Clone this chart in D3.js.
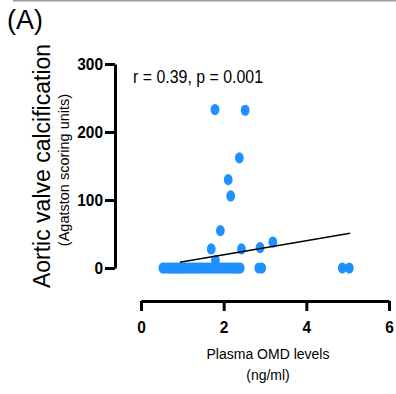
<!DOCTYPE html>
<html>
<head>
<meta charset="utf-8">
<script src="https://cdn.jsdelivr.net/npm/d3@7"></script>
<style>
  html, body { margin: 0; padding: 0; background: #fff; }
  svg { display: block; font-family: "Liberation Sans", Arial, sans-serif; }
</style>
</head>
<body>
<svg id="chart" width="396" height="394"></svg>
<script>
// ---- data ----
const omdLevels = [
  0.53, 0.58, 0.63, 0.68, 0.72, 0.77, 0.81, 0.86, 0.90, 0.95, 0.99, 1.04, 1.08, 1.13,
  1.18, 1.22, 1.27, 1.31, 1.36, 1.41, 1.45, 1.50, 1.55, 1.60, 1.65, 1.70, 1.74, 1.79,
  1.84, 1.88, 1.93, 1.98, 2.03, 2.08, 2.13, 2.18, 2.22, 2.27, 2.32, 2.36, 2.40, 2.85,
  2.92, 4.87, 5.04,
  1.79, 2.52, 2.38, 2.11, 2.17, 1.92, 1.70, 2.43, 2.88, 3.19, 1.80
];
const avcScores = [
  0, 0, 0, 0, 0, 0, 0, 0, 0, 0, 0, 0, 0, 0,
  0, 0, 0, 0, 0, 0, 0, 0, 0, 0, 0, 0, 0, 0,
  0, 0, 0, 0, 0, 0, 0, 0, 0, 0, 0, 0, 0, 0,
  0, 0, 0,
  233, 232, 162, 130, 106, 55, 28, 28, 30, 38, 11
];
const fitX = [0.94, 5.06];
const fitY = [8.4, 51];
const xTicks = [0, 2, 4, 6];
const yTicks = [0, 100, 200, 300];
const statsLabel = "r = 0.39, p = 0.001";
const panelLabel = "(A)";
const yTitle = "Aortic valve calcification";
const ySubtitle = "(Agatston scoring units)";
const xTitle = "Plasma OMD levels";
const xSubtitle = "(ng/ml)";

// ---- layout ----
const svg = d3.select("#chart");
const x = d3.scaleLinear().domain([0, 6]).range([141, 389]);
const y = d3.scaleLinear().domain([0, 300]).range([268, 64]);
const yAxisX = 115, xAxisY = 301;
const stretch = 1.12;
const blue = "#1E90FF";

// top border line
svg.append("line").attr("x1", 13).attr("x2", 396).attr("y1", 0.8).attr("y2", 0.8)
  .attr("stroke", "#9a9a9a").attr("stroke-width", 1.6);

// panel label
svg.append("text").attr("x", 7).attr("y", 29).attr("font-size", 27).text(panelLabel);

// y axis
const gy = svg.append("g").attr("transform", `translate(${yAxisX},0)`)
  .call(d3.axisLeft(y).tickValues(yTicks).tickFormat(d3.format("d"))
    .tickSize(10).tickSizeOuter(0).tickPadding(2));
gy.select(".domain").attr("stroke-width", 3);
gy.selectAll(".tick line").attr("stroke-width", 3);
gy.selectAll(".tick text").attr("font-size", 15.5).attr("font-weight", "bold")
  .attr("font-family", "Liberation Sans, Arial, sans-serif").attr("fill", "#000")
  .attr("transform", `scale(1,${stretch})`);

// x axis
const gx = svg.append("g").attr("transform", `translate(0,${xAxisY})`)
  .call(d3.axisBottom(x).tickValues(xTicks).tickFormat(d3.format("d"))
    .tickSize(10).tickSizeOuter(0));
gx.select(".domain").attr("stroke-width", 3);
gx.selectAll(".tick line").attr("stroke-width", 3);
gx.selectAll(".tick text").attr("font-size", 15.5).attr("font-weight", "bold")
  .attr("font-family", "Liberation Sans, Arial, sans-serif").attr("fill", "#000")
  .attr("y", 32 / stretch).attr("dy", 0)
  .attr("transform", `scale(1,${stretch})`);

// points
svg.append("g").selectAll("ellipse").data(omdLevels.map((v, i) => [v, avcScores[i]]))
  .join("ellipse")
  .attr("cx", d => x(d[0])).attr("cy", d => y(d[1]))
  .attr("rx", 4.4).attr("ry", 5.6).attr("fill", blue);

// regression line
svg.append("line")
  .attr("x1", x(fitX[0])).attr("y1", y(fitY[0]))
  .attr("x2", x(fitX[1])).attr("y2", y(fitY[1]))
  .attr("stroke", "#000").attr("stroke-width", 1.5);

// stats label
svg.append("text").attr("transform", `translate(133,83) scale(1,1.15)`)
  .attr("font-size", 16).attr("textLength", 130).attr("lengthAdjust", "spacingAndGlyphs")
  .text(statsLabel);

// y titles
svg.append("text").attr("transform", "translate(50,166) rotate(-90)")
  .attr("text-anchor", "middle").attr("font-size", 23).text(yTitle);
svg.append("text").attr("transform", "translate(69,170) rotate(-90)")
  .attr("text-anchor", "middle").attr("font-size", 14.5).text(ySubtitle);

// x titles
svg.append("text").attr("x", 268).attr("y", 359).attr("text-anchor", "middle")
  .attr("font-size", 14).text(xTitle);
svg.append("text").attr("x", 268).attr("y", 380).attr("text-anchor", "middle")
  .attr("font-size", 14).text(xSubtitle);
</script>
</body>
</html>
